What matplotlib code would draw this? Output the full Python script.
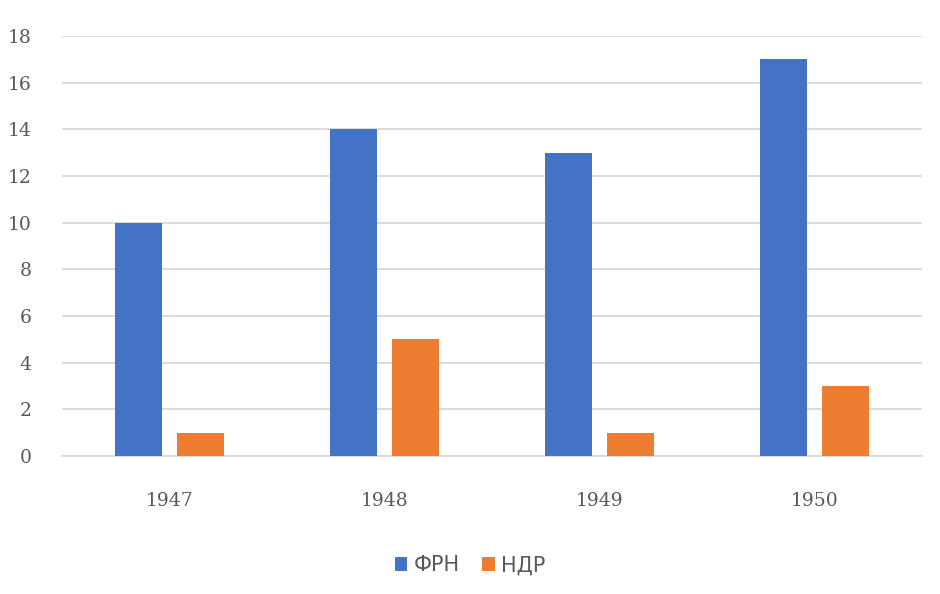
import matplotlib.pyplot as plt
import numpy as np

years = ['1947', '1948', '1949', '1950']
frg = [10, 14, 13, 17]
gdr = [1, 5, 1, 3]
series_names = ['ФРН', 'НДР']

fig = plt.figure(figsize=(9.4, 5.94), dpi=100)
ax = fig.add_axes([0.066, 0.2323, 0.915, 0.7071])

x = np.arange(len(years))
w = 0.22
ax.bar(x - 0.145, frg, w, color='#4472C4', label=series_names[0], zorder=3)
ax.bar(x + 0.145, gdr, w, color='#ED7D31', label=series_names[1], zorder=3)

ax.set_xlim(-0.5, 3.5)
ax.set_ylim(0, 18)
ax.set_yticks(range(0, 19, 2))
ax.set_xticks(x)
ax.set_xticklabels(years)
ax.grid(axis='y', color='#D9D9D9', linewidth=1.3, zorder=0)
for s in ['top', 'right', 'left']:
    ax.spines[s].set_visible(False)
ax.spines['bottom'].set_color('#D9D9D9')
ax.spines['bottom'].set_linewidth(1.3)
ax.tick_params(length=0, labelcolor='#595959', labelsize=13.5)
ax.tick_params(axis='x', pad=26)
ax.tick_params(axis='y', pad=22)
for lbl in ax.get_xticklabels() + ax.get_yticklabels():
    lbl.set_family('DejaVu Serif')

fig.legend(loc='lower center', bbox_to_anchor=(0.5, 0.0), ncol=2, frameon=False,
           fontsize=15, handlelength=0.6, handleheight=0.6, handletextpad=0.3,
           columnspacing=1.1, labelcolor='#595959')

fig.savefig('out.png')
